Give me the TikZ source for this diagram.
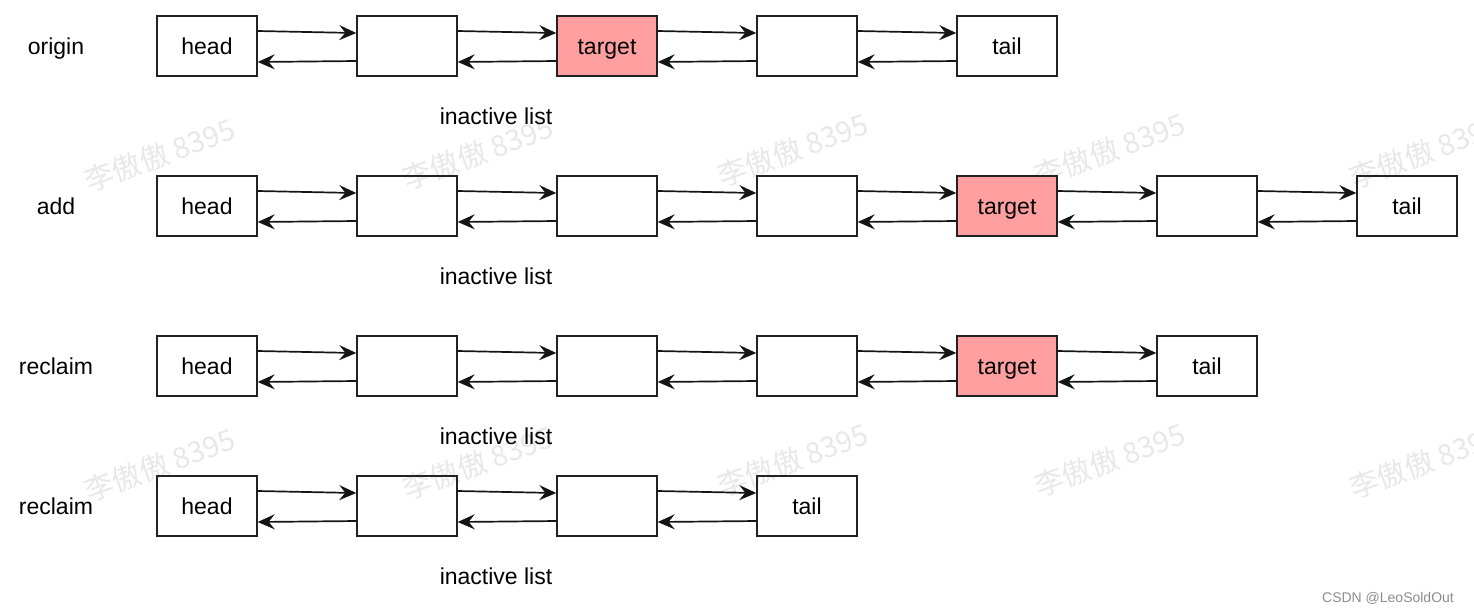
\documentclass[tikz,border=0pt]{standalone}
\usepackage{fontspec}
\setmainfont{Liberation Sans}
\newfontfamily\cjk{Noto Sans CJK SC}
\usetikzlibrary{arrows.meta}
\definecolor{boxline}{HTML}{222222}
\definecolor{tgt}{HTML}{FF9F9F}
\definecolor{wm}{HTML}{E8E8E8}
\tikzset{
  cell/.style={draw=boxline, line width=1.4pt, minimum width=100pt, minimum height=60pt, inner sep=0pt,
    text height=18pt, text depth=2pt, font=\fontsize{23}{26}\selectfont},
  tcell/.style={cell, fill=tgt},
  lbl/.style={font=\fontsize{23}{26}\selectfont, text height=18pt, text depth=2pt},
  lnk/.style={draw=black!92, line width=1.7pt, -{Stealth[length=17pt,width=15pt,inset=6pt]}},
  wmark/.style={text=wm, font=\cjk\fontsize{29}{31}\selectfont, rotate=20},
}
\begin{document}
\begin{tikzpicture}[x=1pt,y=-1pt]
\useasboundingbox (0,0) rectangle (1474,614);
% watermarks
\foreach \wx/\wy in {160/155, 478/153, 793/150, 1110/150, 1425/152, 160/465, 478/463, 793/460, 1110/460, 1425/462}{
  \node[wmark] at (\wx,\wy) {李傲傲 8395};
}
% row 1: origin
\node[lbl] (l1) at (56,46) {origin};
\node[cell]  (a1) at (207,46) {head};
\node[cell]  (a2) at (407,46) {};
\node[tcell] (a3) at (607,46) {target};
\node[cell]  (a4) at (807,46) {};
\node[cell]  (a5) at (1007,46) {tail};
\node[lbl] (i1) at (496,116) {inactive list};
% row 2: add
\node[lbl] (l2) at (56,206) {add};
\node[cell]  (b1) at (207,206) {head};
\node[cell]  (b2) at (407,206) {};
\node[cell]  (b3) at (607,206) {};
\node[cell]  (b4) at (807,206) {};
\node[tcell] (b5) at (1007,206) {target};
\node[cell]  (b6) at (1207,206) {};
\node[cell]  (b7) at (1407,206) {tail};
\node[lbl] (i2) at (496,276) {inactive list};
% row 3: reclaim
\node[lbl] (l3) at (56,366) {reclaim};
\node[cell]  (c1) at (207,366) {head};
\node[cell]  (c2) at (407,366) {};
\node[cell]  (c3) at (607,366) {};
\node[cell]  (c4) at (807,366) {};
\node[tcell] (c5) at (1007,366) {target};
\node[cell]  (c6) at (1207,366) {tail};
\node[lbl] (i3) at (496,436) {inactive list};
% row 4: reclaim
\node[lbl] (l4) at (56,506) {reclaim};
\node[cell]  (d1) at (207,506) {head};
\node[cell]  (d2) at (407,506) {};
\node[cell]  (d3) at (607,506) {};
\node[cell]  (d4) at (807,506) {tail};
\node[lbl] (i4) at (496,576) {inactive list};
% links
\foreach \p/\q in {a1/a2,a2/a3,a3/a4,a4/a5,
                   b1/b2,b2/b3,b3/b4,b4/b5,b5/b6,b6/b7,
                   c1/c2,c2/c3,c3/c4,c4/c5,c5/c6,
                   d1/d2,d2/d3,d3/d4}{
  \draw[lnk] ([yshift=15pt]\p.east) -- ([yshift=13pt]\q.west);
  \draw[lnk] ([yshift=-15pt]\q.west) -- ([yshift=-16pt]\p.east);
}
\node[text=black!45, font=\fontsize{14}{16}\selectfont] (csdn) at (1388,598) {CSDN @LeoSoldOut};
\end{tikzpicture}
\end{document}
